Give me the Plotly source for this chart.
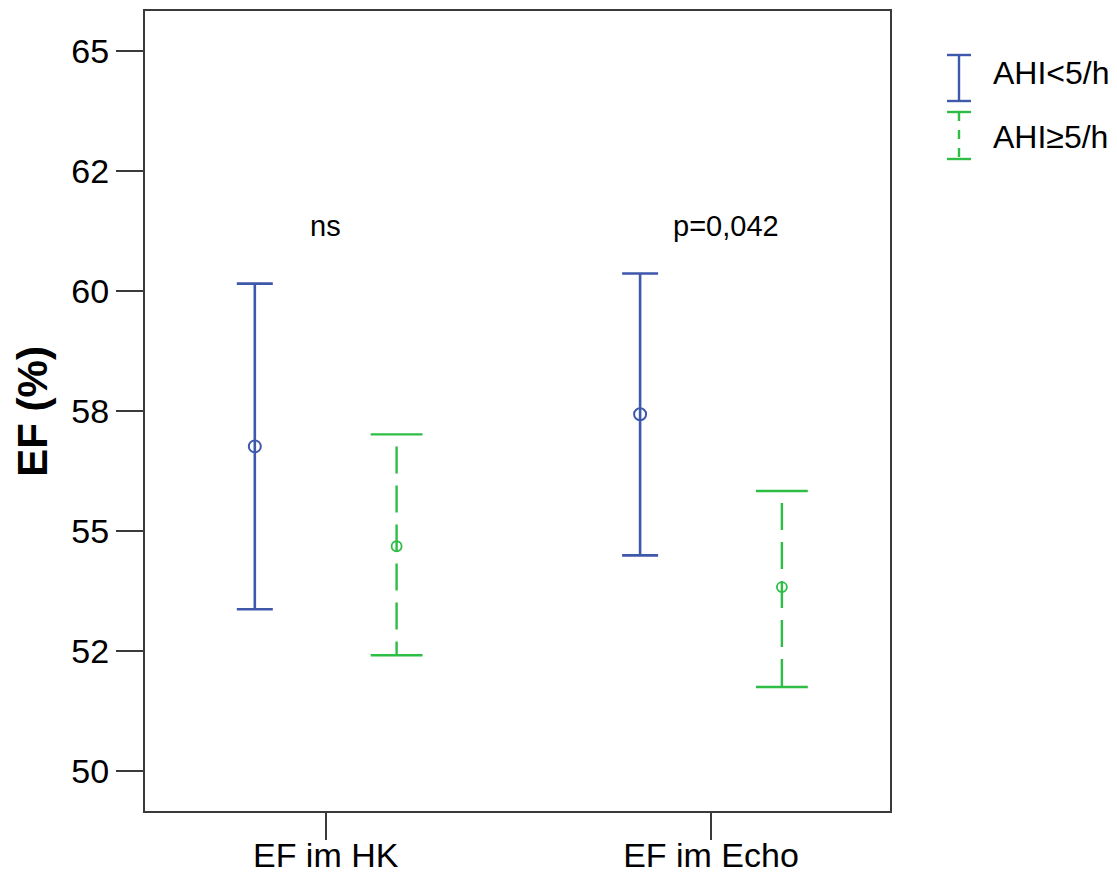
import plotly.graph_objects as go

# ---- data ----
categories = ["EF im HK", "EF im Echo"]
groups = ["AHI<5/h", "AHI\u22655/h"]
mean_low_ahi = [56.76, 57.43]
upper_low_ahi = [60.15, 60.36]
lower_low_ahi = [53.37, 54.49]
mean_high_ahi = [54.68, 53.83]
upper_high_ahi = [57.01, 55.83]
lower_high_ahi = [52.41, 51.75]
y_tick_vals = [50, 52.5, 55, 57.5, 60, 62.5, 65]
y_tick_text = ["50", "52", "55", "58", "60", "62", "65"]
annot_texts = ["ns", "p=0,042"]

BLUE = "#3E58AC"
GREEN = "#2EBD45"
AXC = "#3a3a3a"
FONT = "Liberation Sans, Arial, sans-serif"
OFF = 0.184

cat_x = list(range(len(categories)))
xb = [c - OFF for c in cat_x]
xg = [c + OFF for c in cat_x]

fig = go.Figure()

# blue: solid error bars with open circle at mean
fig.add_trace(go.Scatter(
    x=xb, y=mean_low_ahi, mode="markers", showlegend=False,
    marker=dict(symbol="circle-open", size=12, color=BLUE, line=dict(width=2, color=BLUE)),
    error_y=dict(type="data", symmetric=False,
                 array=[u - m for u, m in zip(upper_low_ahi, mean_low_ahi)],
                 arrayminus=[m - l for m, l in zip(mean_low_ahi, lower_low_ahi)],
                 color=BLUE, thickness=2.6, width=18),
))

# green: dashed vertical lines
gx, gy = [], []
for x, lo, hi in zip(xg, lower_high_ahi, upper_high_ahi):
    gx += [x, x, None]
    gy += [hi, lo, None]
fig.add_trace(go.Scatter(
    x=gx, y=gy, mode="lines", showlegend=False,
    line=dict(color=GREEN, width=2.4, dash="0px,12px,27px,0px"),
))
# green caps
fig.add_trace(go.Scatter(
    x=xg + xg, y=upper_high_ahi + lower_high_ahi, mode="markers", showlegend=False,
    marker=dict(symbol="line-ew", size=37, color=GREEN, line=dict(width=2.4, color=GREEN)),
))
# green mean
fig.add_trace(go.Scatter(
    x=xg, y=mean_high_ahi, mode="markers", showlegend=False,
    marker=dict(symbol="circle-open", size=10, color=GREEN, line=dict(width=1.8, color=GREEN)),
))

# significance labels
for x, t in zip([0, 1.04], annot_texts):
    fig.add_annotation(x=x, y=61.35, xref="x", yref="y", text=t, showarrow=False,
                       font=dict(size=29, color="black", family=FONT),
                       xanchor="center", yanchor="middle")

# y title
fig.add_annotation(x=-0.152, y=0.5, xref="paper", yref="paper", text="<b>EF (%)</b>",
                   textangle=-90, showarrow=False, xanchor="center", yanchor="middle",
                   font=dict(size=42, color="black", family=FONT))

# custom legend
def px_x(p):
    return (p - 145) / 745.0

def px_y(p):
    return (811 - p) / 800.0

legend_items = [
    (groups[0], BLUE, "solid", 55, 101, 73),
    (groups[1], GREEN, "dash", 112, 159, 137),
]
for label, col, dash, top, bot, mid in legend_items:
    fig.add_shape(type="line", xref="paper", yref="paper",
                  x0=px_x(959), x1=px_x(959), y0=px_y(top), y1=px_y(bot),
                  line=dict(color=col, width=2.4, dash=dash))
    for yy in (top, bot):
        fig.add_shape(type="line", xref="paper", yref="paper",
                      x0=px_x(947), x1=px_x(971), y0=px_y(yy), y1=px_y(yy),
                      line=dict(color=col, width=2.4))
    fig.add_annotation(x=px_x(991), y=px_y(mid), xref="paper", yref="paper", text=label,
                       showarrow=False, xanchor="left", yanchor="middle",
                       font=dict(size=32, color="black", family=FONT))

fig.update_layout(
    width=1117, height=875,
    margin=dict(l=145, r=227, t=11, b=64),
    paper_bgcolor="white", plot_bgcolor="white",
    font=dict(family=FONT, color="black"),
    showlegend=False,
)
fig.update_xaxes(
    range=[-0.469, 1.4646], tickvals=cat_x, ticktext=categories, automargin=False,
    showline=True, mirror=True, linecolor=AXC, linewidth=2,
    ticks="outside", ticklen=27, tickwidth=2, tickcolor=AXC, ticklabelstandoff=-14,
    showgrid=False, zeroline=False, tickfont=dict(size=34, color="black"),
)
fig.update_yaxes(
    range=[49.167, 65.827], tickvals=y_tick_vals, ticktext=y_tick_text, automargin=False,
    showline=True, mirror=True, linecolor=AXC, linewidth=2,
    ticks="outside", ticklen=27, tickwidth=2, tickcolor=AXC,
    showgrid=False, zeroline=False, tickfont=dict(size=34, color="black"),
)

fig.write_html("out.html")
